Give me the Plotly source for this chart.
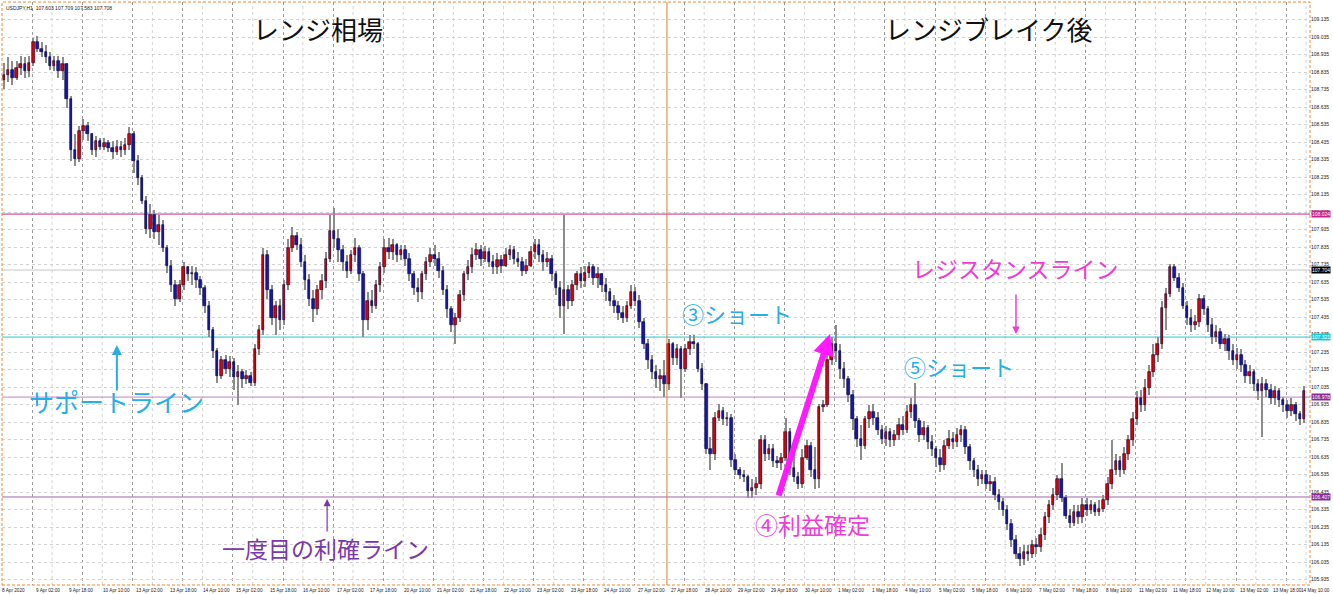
import plotly.graph_objects as go

# ---------------- data (USDJPY H1 chart, sampled as 2-hour bars) ----------------
open_ = [
    108.79, 108.82, 108.85, 108.80, 108.86, 108.88, 108.84, 108.89,
    109.01, 108.97, 108.95, 108.92, 108.87, 108.90, 108.84, 108.88,
    108.68, 108.39, 108.34, 108.50, 108.53, 108.48, 108.39, 108.44,
    108.41, 108.43, 108.40, 108.38, 108.41, 108.39, 108.42, 108.48,
    108.33, 108.23, 108.10, 107.94, 108.02, 107.92, 107.96, 107.83,
    107.73, 107.62, 107.54, 107.62, 107.72, 107.68, 107.69, 107.65,
    107.60, 107.50, 107.36, 107.24, 107.10, 107.19, 107.14, 107.18,
    107.09, 107.12, 107.08, 107.10, 107.06, 107.25, 107.36, 107.79,
    107.59, 107.43, 107.50, 107.42, 107.62, 107.83, 107.90, 107.85,
    107.75, 107.65, 107.54, 107.48, 107.59, 107.64, 107.77, 107.93,
    107.88, 107.82, 107.75, 107.70, 107.79, 107.83, 107.68, 107.42,
    107.53, 107.50, 107.62, 107.72, 107.83, 107.81, 107.85, 107.79,
    107.82, 107.77, 107.68, 107.60, 107.58, 107.68, 107.75, 107.79,
    107.77, 107.70, 107.59, 107.48, 107.39, 107.43, 107.56, 107.68,
    107.72, 107.79, 107.82, 107.77, 107.81, 107.75, 107.72, 107.76,
    107.73, 107.79, 107.82, 107.77, 107.75, 107.70, 107.73, 107.81,
    107.85, 107.79, 107.75, 107.77, 107.68, 107.60, 107.50, 107.59,
    107.53, 107.62, 107.68, 107.64, 107.69, 107.72, 107.66, 107.68,
    107.62, 107.58, 107.53, 107.50, 107.46, 107.43, 107.50, 107.58,
    107.53, 107.41, 107.28, 107.19, 107.12, 107.08, 107.10, 107.05,
    107.28, 107.20, 107.25, 107.14, 107.25, 107.29, 107.28, 107.14,
    107.05, 106.68, 106.65, 106.86, 106.90, 106.85, 106.86, 106.62,
    106.56, 106.53, 106.52, 106.44, 106.46, 106.48, 106.73, 106.65,
    106.68, 106.61, 106.60, 106.63, 106.78, 106.57, 106.52, 106.48,
    106.63, 106.70, 106.56, 106.51, 106.92, 106.93, 107.19, 107.28,
    107.24, 107.14, 107.08, 106.99, 106.85, 106.74, 106.70, 106.85,
    106.89, 106.86, 106.79, 106.74, 106.78, 106.73, 106.76, 106.82,
    106.79, 106.89, 106.93, 106.84, 106.76, 106.80, 106.72, 106.68,
    106.63, 106.59, 106.70, 106.74, 106.72, 106.76, 106.79, 106.69,
    106.61, 106.56, 106.51, 106.53, 106.48, 106.49, 106.42, 106.38,
    106.33, 106.25, 106.16, 106.08, 106.05, 106.09, 106.08, 106.13,
    106.12, 106.19, 106.29, 106.36, 106.42, 106.51, 106.40, 106.30,
    106.26, 106.32, 106.29, 106.36, 106.33, 106.36, 106.32, 106.34,
    106.39, 106.48, 106.56, 106.61, 106.56, 106.65, 106.73, 106.85,
    106.97, 106.93, 107.03, 107.12, 107.22, 107.28, 107.49, 107.57,
    107.72, 107.66, 107.60, 107.50, 107.43, 107.39, 107.41, 107.54,
    107.48, 107.39, 107.32, 107.35, 107.28, 107.31, 107.24, 107.19,
    107.22, 107.16, 107.10, 107.12, 107.05, 107.01, 107.05, 107.02,
    106.97, 107.01, 106.96, 106.93, 106.90, 106.93, 106.88, 106.85,
]
high = [
    108.89, 108.92, 108.90, 108.90, 108.93, 108.92, 108.93, 109.03,
    109.04, 109.01, 108.99, 108.95, 108.93, 108.93, 108.92, 108.89,
    108.70, 108.48, 108.53, 108.57, 108.55, 108.49, 108.47, 108.46,
    108.46, 108.45, 108.44, 108.45, 108.44, 108.46, 108.52, 108.50,
    108.36, 108.25, 108.13, 108.08, 108.05, 108.02, 107.99, 107.85,
    107.76, 107.65, 107.65, 107.75, 107.73, 107.73, 107.72, 107.67,
    107.62, 107.53, 107.38, 107.26, 107.21, 107.22, 107.21, 107.20,
    107.16, 107.14, 107.13, 107.12, 107.28, 107.39, 107.83, 107.82,
    107.62, 107.53, 107.54, 107.65, 107.88, 107.95, 107.92, 107.89,
    107.79, 107.68, 107.59, 107.62, 107.68, 107.81, 108.02, 108.06,
    107.94, 107.85, 107.79, 107.82, 107.89, 107.85, 107.70, 107.58,
    107.59, 107.65, 107.75, 107.88, 107.89, 107.88, 107.86, 107.85,
    107.85, 107.80, 107.70, 107.66, 107.70, 107.78, 107.83, 107.85,
    107.81, 107.73, 107.62, 107.50, 107.46, 107.59, 107.70, 107.76,
    107.83, 107.86, 107.85, 107.84, 107.83, 107.79, 107.80, 107.79,
    107.83, 107.85, 107.84, 107.81, 107.78, 107.77, 107.84, 107.88,
    107.88, 107.82, 107.81, 107.79, 107.70, 107.64, 108.02, 107.62,
    107.65, 107.70, 107.72, 107.73, 107.75, 107.74, 107.72, 107.69,
    107.66, 107.60, 107.56, 107.53, 107.50, 107.53, 107.62, 107.61,
    107.56, 107.43, 107.31, 107.22, 107.16, 107.14, 107.19, 107.31,
    107.29, 107.28, 107.27, 107.28, 107.33, 107.33, 107.29, 107.17,
    107.06, 106.75, 106.89, 106.94, 106.92, 106.89, 106.88, 106.65,
    106.58, 106.56, 106.53, 106.51, 106.52, 106.76, 106.76, 106.71,
    106.71, 106.64, 106.66, 106.86, 106.80, 106.65, 106.55, 106.68,
    106.73, 106.72, 106.69, 106.94, 106.96, 107.22, 107.32, 107.39,
    107.28, 107.18, 107.10, 107.02, 106.87, 106.82, 106.87, 106.93,
    106.94, 106.89, 106.82, 106.81, 106.80, 106.79, 106.86, 106.87,
    106.93, 106.97, 107.06, 106.86, 106.84, 106.82, 106.76, 106.70,
    106.68, 106.73, 106.79, 106.78, 106.80, 106.82, 106.81, 106.71,
    106.63, 106.59, 106.56, 106.56, 106.53, 106.52, 106.45, 106.40,
    106.36, 106.28, 106.19, 106.12, 106.13, 106.13, 106.16, 106.17,
    106.23, 106.32, 106.39, 106.46, 106.53, 106.60, 106.42, 106.34,
    106.36, 106.36, 106.40, 106.40, 106.39, 106.38, 106.39, 106.42,
    106.52, 106.73, 106.65, 106.64, 106.69, 106.76, 106.89, 107.01,
    107.02, 107.08, 107.16, 107.28, 107.32, 107.53, 107.60, 107.74,
    107.74, 107.69, 107.63, 107.53, 107.48, 107.45, 107.57, 107.56,
    107.50, 107.43, 107.39, 107.37, 107.34, 107.33, 107.28, 107.26,
    107.25, 107.19, 107.16, 107.14, 107.08, 107.09, 107.08, 107.05,
    107.04, 107.03, 106.98, 106.96, 106.97, 106.95, 106.90, 107.04,
]
low = [
    108.74, 108.78, 108.76, 108.79, 108.82, 108.80, 108.81, 108.87,
    108.95, 108.92, 108.89, 108.85, 108.84, 108.80, 108.79, 108.63,
    108.33, 108.30, 108.32, 108.45, 108.44, 108.36, 108.35, 108.39,
    108.39, 108.38, 108.34, 108.36, 108.35, 108.36, 108.39, 108.26,
    108.19, 108.08, 107.91, 107.89, 107.88, 107.85, 107.81, 107.69,
    107.58, 107.50, 107.52, 107.59, 107.64, 107.62, 107.60, 107.56,
    107.46, 107.32, 107.20, 107.06, 107.08, 107.11, 107.09, 107.02,
    106.93, 107.03, 107.05, 107.04, 107.04, 107.22, 107.33, 107.54,
    107.39, 107.33, 107.36, 107.39, 107.59, 107.81, 107.82, 107.72,
    107.59, 107.50, 107.41, 107.45, 107.54, 107.60, 107.75, 107.83,
    107.75, 107.70, 107.66, 107.68, 107.75, 107.64, 107.32, 107.36,
    107.46, 107.48, 107.58, 107.69, 107.77, 107.76, 107.75, 107.76,
    107.73, 107.64, 107.56, 107.52, 107.54, 107.65, 107.72, 107.73,
    107.66, 107.56, 107.43, 107.35, 107.28, 107.41, 107.53, 107.65,
    107.69, 107.76, 107.73, 107.75, 107.72, 107.68, 107.68, 107.69,
    107.72, 107.76, 107.74, 107.72, 107.67, 107.68, 107.72, 107.77,
    107.75, 107.70, 107.72, 107.64, 107.56, 107.43, 107.34, 107.48,
    107.50, 107.59, 107.60, 107.61, 107.66, 107.62, 107.60, 107.58,
    107.53, 107.50, 107.46, 107.42, 107.40, 107.41, 107.48, 107.50,
    107.37, 107.25, 107.14, 107.08, 107.03, 107.01, 106.98, 107.02,
    107.16, 107.16, 106.97, 107.12, 107.22, 107.25, 107.12, 107.02,
    106.65, 106.56, 106.62, 106.84, 106.82, 106.81, 106.58, 106.53,
    106.51, 106.49, 106.40, 106.40, 106.42, 106.45, 106.61, 106.62,
    106.58, 106.57, 106.56, 106.61, 106.53, 106.49, 106.45, 106.46,
    106.62, 106.52, 106.45, 106.46, 106.89, 106.92, 107.16, 107.18,
    107.08, 107.03, 106.95, 106.79, 106.69, 106.62, 106.68, 106.80,
    106.82, 106.76, 106.71, 106.70, 106.69, 106.70, 106.73, 106.76,
    106.77, 106.86, 106.80, 106.72, 106.73, 106.68, 106.64, 106.58,
    106.55, 106.56, 106.68, 106.68, 106.69, 106.72, 106.65, 106.56,
    106.52, 106.47, 106.48, 106.45, 106.44, 106.39, 106.33, 106.30,
    106.22, 106.12, 106.05, 106.01, 106.02, 106.04, 106.06, 106.08,
    106.09, 106.16, 106.26, 106.33, 106.39, 106.38, 106.28, 106.23,
    106.24, 106.25, 106.26, 106.30, 106.31, 106.30, 106.30, 106.32,
    106.36, 106.45, 106.53, 106.52, 106.54, 106.62, 106.70, 106.82,
    106.89, 106.90, 106.99, 107.09, 107.18, 107.25, 107.36, 107.55,
    107.64, 107.58, 107.48, 107.39, 107.35, 107.36, 107.38, 107.45,
    107.35, 107.28, 107.29, 107.25, 107.24, 107.19, 107.16, 107.14,
    107.12, 107.06, 107.05, 107.01, 106.96, 106.75, 106.98, 106.94,
    106.93, 106.92, 106.89, 106.86, 106.87, 106.84, 106.82, 106.83,
]
close = [
    108.82, 108.85, 108.80, 108.86, 108.88, 108.84, 108.89, 109.01,
    108.97, 108.95, 108.92, 108.87, 108.90, 108.84, 108.88, 108.68,
    108.39, 108.34, 108.50, 108.53, 108.48, 108.39, 108.44, 108.41,
    108.43, 108.40, 108.38, 108.41, 108.39, 108.42, 108.48, 108.33,
    108.23, 108.10, 107.94, 108.02, 107.92, 107.96, 107.83, 107.73,
    107.62, 107.54, 107.62, 107.72, 107.68, 107.69, 107.65, 107.60,
    107.50, 107.36, 107.24, 107.10, 107.19, 107.14, 107.18, 107.09,
    107.12, 107.08, 107.10, 107.06, 107.25, 107.36, 107.79, 107.59,
    107.43, 107.50, 107.42, 107.62, 107.83, 107.90, 107.85, 107.75,
    107.65, 107.54, 107.48, 107.59, 107.64, 107.77, 107.93, 107.88,
    107.82, 107.75, 107.70, 107.79, 107.83, 107.68, 107.42, 107.53,
    107.50, 107.62, 107.72, 107.83, 107.81, 107.85, 107.79, 107.82,
    107.77, 107.68, 107.60, 107.58, 107.68, 107.75, 107.79, 107.77,
    107.70, 107.59, 107.48, 107.39, 107.43, 107.56, 107.68, 107.72,
    107.79, 107.82, 107.77, 107.81, 107.75, 107.72, 107.76, 107.73,
    107.79, 107.82, 107.77, 107.75, 107.70, 107.73, 107.81, 107.85,
    107.79, 107.75, 107.77, 107.68, 107.60, 107.50, 107.59, 107.53,
    107.62, 107.68, 107.64, 107.69, 107.72, 107.66, 107.68, 107.62,
    107.58, 107.53, 107.50, 107.46, 107.43, 107.50, 107.58, 107.53,
    107.41, 107.28, 107.19, 107.12, 107.08, 107.10, 107.05, 107.28,
    107.20, 107.25, 107.14, 107.25, 107.29, 107.28, 107.14, 107.05,
    106.68, 106.65, 106.86, 106.90, 106.85, 106.86, 106.62, 106.56,
    106.53, 106.52, 106.44, 106.46, 106.48, 106.73, 106.65, 106.68,
    106.61, 106.60, 106.63, 106.78, 106.57, 106.52, 106.48, 106.63,
    106.70, 106.56, 106.51, 106.92, 106.93, 107.19, 107.28, 107.24,
    107.14, 107.08, 106.99, 106.85, 106.74, 106.70, 106.85, 106.89,
    106.86, 106.79, 106.74, 106.78, 106.73, 106.76, 106.82, 106.79,
    106.89, 106.93, 106.84, 106.76, 106.80, 106.72, 106.68, 106.63,
    106.59, 106.70, 106.74, 106.72, 106.76, 106.79, 106.69, 106.61,
    106.56, 106.51, 106.53, 106.48, 106.49, 106.42, 106.38, 106.33,
    106.25, 106.16, 106.08, 106.05, 106.09, 106.08, 106.13, 106.12,
    106.19, 106.29, 106.36, 106.42, 106.51, 106.40, 106.30, 106.26,
    106.32, 106.29, 106.36, 106.33, 106.36, 106.32, 106.34, 106.39,
    106.48, 106.56, 106.61, 106.56, 106.65, 106.73, 106.85, 106.97,
    106.93, 107.03, 107.12, 107.22, 107.28, 107.49, 107.57, 107.72,
    107.66, 107.60, 107.50, 107.43, 107.39, 107.41, 107.54, 107.48,
    107.39, 107.32, 107.35, 107.28, 107.31, 107.24, 107.19, 107.22,
    107.16, 107.10, 107.12, 107.05, 107.01, 107.05, 107.02, 106.97,
    107.01, 106.96, 106.93, 106.90, 106.93, 106.88, 106.85, 107.01,
]

time_labels = [
    "8 Apr 2020", "9 Apr 02:00", "9 Apr 18:00", "10 Apr 10:00", "13 Apr 02:00",
    "13 Apr 18:00", "14 Apr 10:00", "15 Apr 02:00", "15 Apr 18:00", "16 Apr 10:00",
    "17 Apr 02:00", "17 Apr 18:00", "20 Apr 10:00", "21 Apr 02:00", "21 Apr 18:00",
    "22 Apr 10:00", "23 Apr 02:00", "23 Apr 18:00", "24 Apr 10:00", "27 Apr 02:00",
    "27 Apr 18:00", "28 Apr 10:00", "29 Apr 02:00", "29 Apr 18:00", "30 Apr 10:00",
    "1 May 02:00", "1 May 18:00", "4 May 10:00", "5 May 02:00", "5 May 18:00",
    "6 May 10:00", "7 May 02:00", "7 May 18:00", "8 May 10:00", "11 May 02:00",
    "11 May 18:00", "12 May 10:00", "13 May 02:00", "13 May 18:00", "14 May 10:00",
]
label_every = 8  # bars between time labels

# horizontal levels drawn on the chart: (price, line colour, label background)
level_prices = [108.024, 107.704, 107.321, 106.978, 106.407]
level_lines = ["#cc2090", "#c8c8c8", "#22c8d2", "#c77fc9", "#a066b0"]
level_boxes = ["#cc2090", "#000000", "#22c8d2", "#8a2a96", "#8a2a96"]

breakout_bar = 158.6  # vertical separator (range / after break)
header = "USDJPY,H1  107.603 107.709 107.583 107.708"

# ---------------- figure ----------------
n = len(close)
bars = list(range(n))
body_base = [min(o, c) for o, c in zip(open_, close)]
body_len = [max(abs(c - o), 0.006) for o, c in zip(open_, close)]
wick_len = [h - l for h, l in zip(high, low)]
body_col = ["#e00000" if c >= o else "#1616b0" for o, c in zip(open_, close)]

fig = go.Figure()
fig.add_trace(go.Bar(x=bars, y=wick_len, base=low, width=0.25,
                     marker=dict(color="#8c8c8c", line=dict(width=0)),
                     hoverinfo="skip", showlegend=False))
fig.add_trace(go.Bar(x=bars, y=body_len, base=body_base, width=0.6,
                     marker=dict(color=body_col, line=dict(color="#000030", width=0.6)),
                     hoverinfo="skip", showlegend=False))

shapes = []
# lighter intraday grid lines between the day separators
for j in range(27):
    xg = 11.5 + 12 * j
    if xg < 312.4:
        shapes.append(dict(type="line", xref="x", x0=xg, x1=xg, yref="paper", y0=0, y1=1,
                           line=dict(color="#d4d4d4", width=1, dash="dot"), layer="below"))
for p, lc in zip(level_prices, level_lines):
    shapes.append(dict(type="line", xref="paper", x0=0, x1=1, yref="y", y0=p, y1=p,
                       line=dict(color=lc, width=1), layer="below"))
shapes.append(dict(type="line", xref="x", x0=breakout_bar, x1=breakout_bar,
                   yref="paper", y0=0, y1=1, line=dict(color="#e07a30", width=1)))
shapes.append(dict(type="rect", xref="paper", yref="paper", x0=0, x1=1, y0=0, y1=1,
                   line=dict(color="#f08a30", width=1, dash="3px,2px")))

small = dict(size=5, color="#222222", family="Liberation Sans")
tlab = dict(size=4.7, color="#222222", family="Liberation Sans")
ann = []
for p, bc in zip(level_prices, level_boxes):
    ann.append(dict(xref="paper", x=1, xanchor="left", xshift=1, y=p, yref="y",
                    text=f"{p:.3f}", showarrow=False, bgcolor=bc, borderpad=0,
                    font=dict(size=5, color="white", family="Liberation Sans")))
last = len(time_labels) - 1
for k, t in enumerate(time_labels):
    if k < last:
        ann.append(dict(xref="x", x=k * label_every - 0.4, xanchor="left", xshift=-2,
                        yref="paper", y=0, yanchor="top", yshift=-1, text=t,
                        showarrow=False, font=tlab))
    else:
        # the right-most label sits under the price scale, ending at the window edge
        ann.append(dict(xref="paper", x=1.0168, xanchor="right",
                        yref="paper", y=0, yanchor="top", yshift=-1, text=t,
                        showarrow=False, font=tlab))
ann.append(dict(xref="paper", x=0, xanchor="left", yref="paper", y=1, yanchor="top",
                xshift=2, yshift=-1, text=header, showarrow=False, font=small))

jp = "Noto Sans CJK JP"
cyan = "#26aee6"
mag = "#f03cd6"
purple = "#7a38a8"
texts = [
    ("レンジ相場", 75.1, 109.087, 26, "#111111"),
    ("レンジブレイク後", 235.6, 109.087, 26, "#111111"),
    ("③ショート", 175.4, 107.458, 22, cyan),
    ("レジスタンスライン", 241.9, 107.716, 23, mag),
    ("⑤ショート", 228.5, 107.156, 22, cyan),
    ("サポートライン", 26.8, 106.956, 25, cyan),
    ("一度目の利確ライン", 76.8, 106.116, 23, purple),
    ("④利益確定", 193.5, 106.253, 23, mag),
]
for t, x, y, s, c in texts:
    ann.append(dict(x=x, y=y, xref="x", yref="y", text=t, showarrow=False,
                    font=dict(size=s, color=c, family=jp)))

arrows = [
    (27.0, 107.276, 27.0, 107.007, cyan, 2, 1.0),
    (77.3, 106.395, 77.3, 106.201, purple, 1.2, 1.2),
    (242.1, 107.338, 242.1, 107.573, mag, 1.5, 1.0),
    (197.6, 107.338, 185.2, 106.407, "#ff1aff", 6, 0.7),
]
for x, y, ax, ay, c, w, s in arrows:
    ann.append(dict(x=x, y=y, ax=ax, ay=ay, xref="x", yref="y", axref="x", ayref="y",
                    text="", showarrow=True, arrowhead=2, arrowsize=s, arrowwidth=w,
                    arrowcolor=c, standoff=0, startstandoff=0))

fig.update_layout(
    width=1333, height=594,
    margin=dict(l=2, r=23, t=2, b=9, autoexpand=False),
    paper_bgcolor="white", plot_bgcolor="white",
    barmode="overlay", bargap=0,
    shapes=shapes, annotations=ann,
    hovermode=False,
    xaxis=dict(range=[-0.48, 312.44], showgrid=True, tick0=6.75, dtick=12,
               gridcolor="#9a9a9a", griddash="dot", gridwidth=1,
               showticklabels=False, ticks="", zeroline=False, showline=False,
               fixedrange=True, automargin=False),
    yaxis=dict(range=[105.904, 109.236], side="right", tick0=105.935, dtick=0.1,
               tickformat=".3f", showgrid=True, gridcolor="#d2d2d2", griddash="dot",
               gridwidth=1, ticks="", zeroline=False, showline=False,
               tickfont=small, fixedrange=True, automargin=False),
)

fig.write_html("out.html", config={"displayModeBar": False},
               post_script="document.body.style.margin='0px';document.body.style.overflow='hidden';")
